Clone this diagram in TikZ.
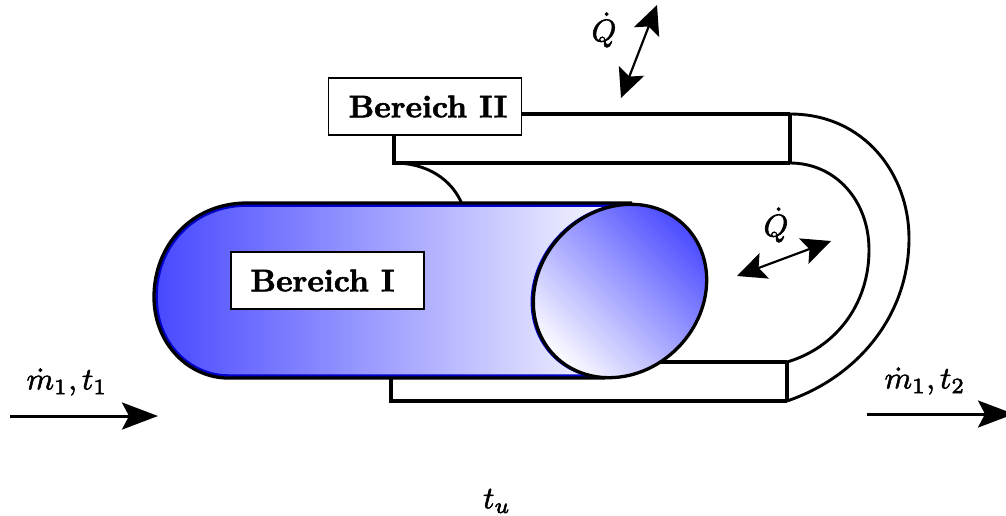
\documentclass[tikz,border=0pt]{standalone}
\usepackage{graphicx}
\usetikzlibrary{arrows.meta}
\definecolor{bodyblue}{RGB}{72,72,255}
\definecolor{edgeblue}{RGB}{0,0,200}
\newcommand{\bigtext}[1]{\scalebox{3.13}{\special{pdf:code 2 Tr 0.18 w}#1\special{pdf:code 0 Tr}}}
\tikzset{
  wall/.style={line width=3.4pt,line join=miter},
  curve/.style={line width=2.9pt},
  outline/.style={line width=3.3pt},
  labelbox/.style={draw=black,line width=1.8pt,fill=white,minimum width=193pt,minimum height=57pt,inner sep=0pt},
  mathlabel/.style={inner sep=0pt},
  flow/.style={line width=3pt,-{Stealth[length=36pt,width=27pt,inset=7pt]}},
  heat/.style={line width=2.2pt,{Stealth[length=29pt,width=27pt,inset=6pt]}-{Stealth[length=29pt,width=27pt,inset=6pt]}}
}
\begin{document}
\begin{tikzpicture}[x=1pt,y=-1pt]
\useasboundingbox (0,0) rectangle (1006,515);
% channel coordinates
\coordinate (ot) at (790,114);
\coordinate (it) at (790,163);
\coordinate (ob) at (787,401);
\coordinate (ib) at (787,362);
\coordinate (itl) at (394,163);
\coordinate (obl) at (391,401);
\coordinate (obu) at (391,370);
\coordinate (ibl) at (600,362);
\coordinate (btop) at (394,130);
\coordinate (ttl) at (515,114);
\coordinate (fil) at (462,204);
% channel
\draw[wall] (ttl) -- (ot);
\draw[wall] (btop) -- (itl) -- (it);
\draw[wall] (obu) -- (obl) -- (ob);
\draw[wall] (ibl) -- (ib);
\draw[wall] (ot) -- (it);
\draw[wall] (ib) -- (ob);
\draw[curve] (ot) .. controls (865,114) and (909,175) .. (909,238) .. controls (909,318) and (855,378) .. (ob);
\draw[curve] (it) .. controls (835,163) and (869,200) .. (869,250) .. controls (869,305) and (835,348) .. (ib);
\draw[curve] (itl) .. controls (428,163) and (452,180) .. (fil);
% cylinder body
\shade[left color=bodyblue,right color=white]
  (247,203) .. controls (192,203) and (154,245) .. (154,297) .. controls (154,345) and (190,378) .. (228,378) -- (605,378) -- (632,203) -- cycle;
\draw[line width=2.5pt,edgeblue] (247,205.5) .. controls (194,205.5) and (156.5,246) .. (156.5,297) .. controls (156.5,344) and (191,375.5) .. (228,375.5) -- (600,375.5);
\draw[line width=2.5pt,edgeblue] (247,205.5) -- (625,205.5);
\draw[outline] (632,203) -- (247,203) .. controls (192,203) and (154,245) .. (154,297) .. controls (154,345) and (190,378) .. (228,378) -- (605,378);
% cylinder end
\draw[line width=2.5pt,edgeblue] (618.5,291) ellipse[x radius=92pt,y radius=81pt,rotate=45];
\shade[top color=bodyblue,bottom color=white,shading angle=-45] (620,291) ellipse[x radius=92pt,y radius=81pt,rotate=45];
\draw[outline] (620,291) ellipse[x radius=92pt,y radius=81pt,rotate=45];
% labels
\node[labelbox] (b1) at (327.5,280.5) {\bigtext{\textbf{Bereich I}}\kern10pt};
\node[labelbox] (b2) at (425,106.5) {\kern6pt\bigtext{\textbf{Bereich II}}};
\node[mathlabel] (q1) at (604,30) {\bigtext{$\dot{Q}$}};
\node[mathlabel] (q2) at (776,225) {\bigtext{$\dot{Q}$}};
\node[mathlabel] (m1) at (67,382) {\bigtext{$\dot{m}_1,t_1$}};
\node[mathlabel] (m2) at (925,381) {\bigtext{$\dot{m}_1,t_2$}};
\node[mathlabel] (tu) at (497,501) {\bigtext{$t_u$}};
% arrows
\coordinate (a1) at (10,416);
\coordinate (a2) at (158,416);
\coordinate (a3) at (867,414);
\coordinate (a4) at (1014,414);
\coordinate (h1) at (621,98);
\coordinate (h2) at (657,5);
\coordinate (h3) at (737,276);
\coordinate (h4) at (831,241);
\draw[flow] (a1) -- (a2);
\draw[flow] (a3) -- (a4);
\draw[heat] (h1) -- (h2);
\draw[heat] (h3) -- (h4);
\end{tikzpicture}
\end{document}
